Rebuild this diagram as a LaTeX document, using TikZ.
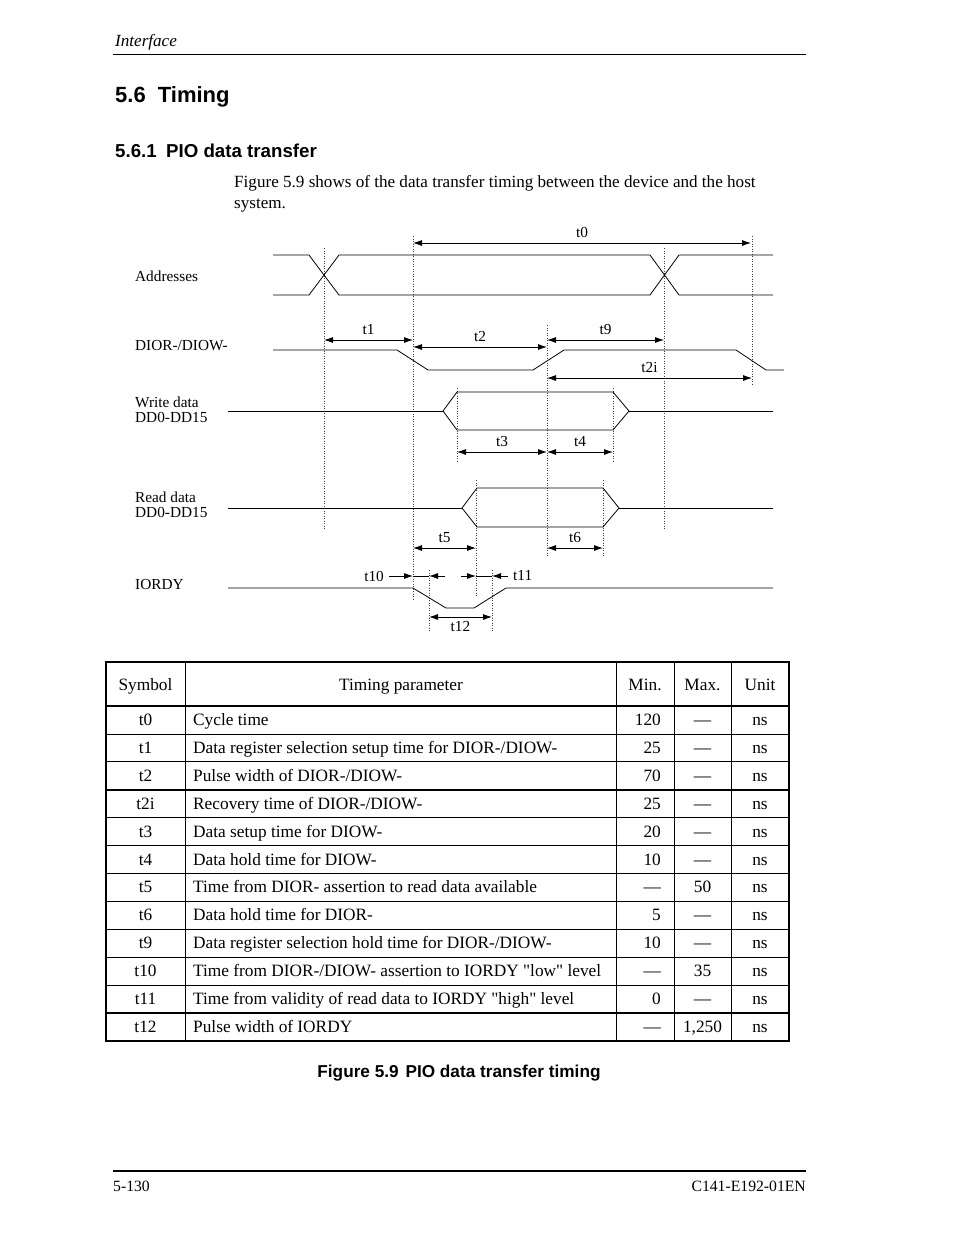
\documentclass[tikz,border=0pt]{standalone}
\usepackage{fontspec}
\setmainfont{Liberation Serif}
\setsansfont{Liberation Sans}
\usetikzlibrary{arrows.meta}
% straight quotes, loaded without the TeX mapping
\font\quotefont="Liberation Serif" at 17.3pt
\newcommand{\sq}{{\quotefont"}}

\begin{document}
\begin{tikzpicture}[
  x=1pt, y=-1pt,
  font=\fontsize{15.3}{15}\selectfont,
  >={Latex[length=9pt,width=6pt]},
  wave/.style={line width=0.8pt},
  guide/.style={line width=0.8pt, dash pattern=on 1pt off 1.5pt, black!75},
  dim/.style={<->, line width=0.8pt},
  tip/.style={->, line width=0.8pt},
  lbl/.style={inner sep=1pt, above=4pt},
  sig/.style={anchor=base west, align=left, inner sep=0pt},
  txt/.style={anchor=base west, inner sep=0pt, font=\fontsize{17.1}{21}\selectfont},
  cell/.style={inner sep=0pt, font=\fontsize{17.3}{20}\selectfont},
  rowrule/.style={line width=0.8pt},
  boldrule/.style={line width=2pt},
  boxrule/.style={line width=2.5pt}
]
\useasboundingbox (0,0) rectangle (954,1235);

% page head
\node[txt, font=\itshape\fontsize{17.1}{20}\selectfont] (hdr) at (115,46) {Interface};
\draw[line width=0.8pt] (113,54) -- (806,54);
\node[txt, font=\sffamily\bfseries\fontsize{22}{26}\selectfont] (sec) at (115,102) {5.6\hspace{0.55em}Timing};
\node[txt, font=\sffamily\bfseries\fontsize{18.7}{22}\selectfont] (subsec) at (115,157) {5.6.1\hspace{0.5em}PIO data transfer};
\node[txt, align=left] (intro) at (234,208) {Figure 5.9 shows of the data transfer timing between the device and the host\\system.};

% signal names
\node[sig] (addr) at (135,281) {Addresses};
\node[sig] (dior) at (135,350) {DIOR-/DIOW-};
\node[sig] (wdata) at (135,422) {Write data\\DD0-DD15};
\node[sig] (rdata) at (135,517) {Read data\\DD0-DD15};
\node[sig] (iordy) at (135,589) {IORDY};

% guide lines
\draw[guide] (324,248) -- (324,530);
\draw[guide] (413,236) -- (413,600);
\draw[guide] (547,325) -- (547,557);
\draw[guide] (664,248) -- (664,530);
\draw[guide] (752,236) -- (752,385);
\draw[guide] (457,388) -- (457,462);
\draw[guide] (613,388) -- (613,462);
\draw[guide] (476,480) -- (476,596);
\draw[guide] (603,480) -- (603,557);
\draw[guide] (429,570) -- (429,632);
\draw[guide] (492,570) -- (492,632);

% waveforms
\draw[wave] (273,255) -- (309,255) -- (339,295) -- (650,295) -- (679,255) -- (773,255);
\draw[wave] (273,295) -- (309,295) -- (339,255) -- (650,255) -- (679,295) -- (773,295);
\draw[wave] (273,350) -- (397,350) -- (428,370) -- (533,370) -- (564,350) -- (736,350) -- (766,370) -- (784,370);
\draw[wave] (228,411) -- (443,411);
\draw[wave] (443,411) -- (457,392) -- (613,392) -- (629,411) -- (613,430) -- (457,430) -- cycle;
\draw[wave] (629,411) -- (773,411);
\draw[wave] (228,508) -- (462,508);
\draw[wave] (462,508) -- (477,488) -- (603,488) -- (619,508) -- (603,527) -- (477,527) -- cycle;
\draw[wave] (619,508) -- (773,508);
\draw[wave] (228,588) -- (413,588) -- (446,608) -- (474,608) -- (506,588) -- (773,588);

% timing dimensions
\draw[dim] (413,243) -- node[lbl] (lt0) {t0} (751,243);
\draw[dim] (324,340) -- node[lbl] (lt1) {t1} (413,340);
\draw[dim] (413,347) -- node[lbl] (lt2) {t2} (547,347);
\draw[dim] (547,340) -- node[lbl] (lt9) {t9} (664,340);
\draw[dim] (547,378) -- node[lbl] (lt2i) {t2i} (752,378);
\draw[dim] (457,452) -- node[lbl] (lt3) {t3} (547,452);
\draw[dim] (547,452) -- node[lbl] (lt4) {t4} (613,452);
\draw[dim] (413,548) -- node[lbl] (lt5) {t5} (476,548);
\draw[dim] (547,548) -- node[lbl] (lt6) {t6} (603,548);
\draw[dim] (429,617) -- node[inner sep=1pt, below=3pt] (lt12) {t12} (492,617);
\node[inner sep=0pt, anchor=east] (lt10) at (384,576) {t10};
\draw[tip] (389,576) -- (413,576);
\draw[wave] (413,576) -- (429,576);
\draw[tip] (445,576) -- (429,576);
\draw[tip] (461,576) -- (476,576);
\draw[wave] (476,576) -- (492,576);
\draw[tip] (508,576) -- (492,576);
\node[inner sep=0pt, anchor=west] (lt11) at (513,576) {t11};

% table
\node[cell, anchor=base] (hsym) at (145.5,690) {Symbol};
\node[cell, anchor=base] (hpar) at (401,690) {Timing parameter};
\node[cell, anchor=base] (hmin) at (645,690) {Min.};
\node[cell, anchor=base] (hmax) at (702.5,690) {Max.};
\node[cell, anchor=base] (hunit) at (760,690) {Unit};
\foreach \s/\p/\mn/\mx [count=\i] in {
  t0/{Cycle time}/120/---,
  t1/{Data register selection setup time for DIOR-/DIOW-}/25/---,
  t2/{Pulse width of DIOR-/DIOW-}/70/---,
  t2i/{Recovery time of DIOR-/DIOW-}/25/---,
  t3/{Data setup time for DIOW-}/20/---,
  t4/{Data hold time for DIOW-}/10/---,
  t5/{Time from DIOR- assertion to read data available}/---/50,
  t6/{Data hold time for DIOR-}/5/---,
  t9/{Data register selection hold time for DIOR-/DIOW-}/10/---,
  t10/{Time from DIOR-/DIOW- assertion to IORDY \sq low\sq{} level}/---/35,
  t11/{Time from validity of read data to IORDY \sq high\sq{} level}/0/---,
  t12/{Pulse width of IORDY}/---/{1,250}}{
  \pgfmathsetmacro\yb{706+27.92*(\i-0.5)+5.5}
  \node[cell, anchor=base] (sym\i) at (145.5,\yb) {\s};
  \node[cell, anchor=base west] (par\i) at (193,\yb) {\p};
  \node[cell, anchor=base east] (min\i) at (661,\yb) {\mn};
  \node[cell, anchor=base] (max\i) at (702.5,\yb) {\mx};
  \node[cell, anchor=base] (unit\i) at (760,\yb) {ns};
  \draw[rowrule] (106,706+27.92*\i) -- (789,706+27.92*\i);
}
\foreach \cx in {185,616,674,731}
  \draw[rowrule] (\cx,662) -- (\cx,1041);
\draw[boldrule] (106,706) -- (789,706);
\draw[boldrule] (106,789.8) -- (789,789.8);
\draw[boldrule] (106,1013) -- (789,1013);
\draw[boxrule] (106,662) rectangle (789,1041);

\node[anchor=base, inner sep=0pt, font=\sffamily\bfseries\fontsize{17.2}{20}\selectfont] (cap) at (459,1077) {Figure 5.9\hspace{0.4em}PIO data transfer timing};

% page foot
\draw[line width=2pt] (113,1171) -- (806,1171);
\node[txt, font=\fontsize{15.7}{18}\selectfont] (pg) at (113,1191) {5-130};
\node[txt, anchor=base east, font=\fontsize{15.7}{18}\selectfont] (docno) at (806,1191) {C141-E192-01EN};
\end{tikzpicture}
\end{document}
